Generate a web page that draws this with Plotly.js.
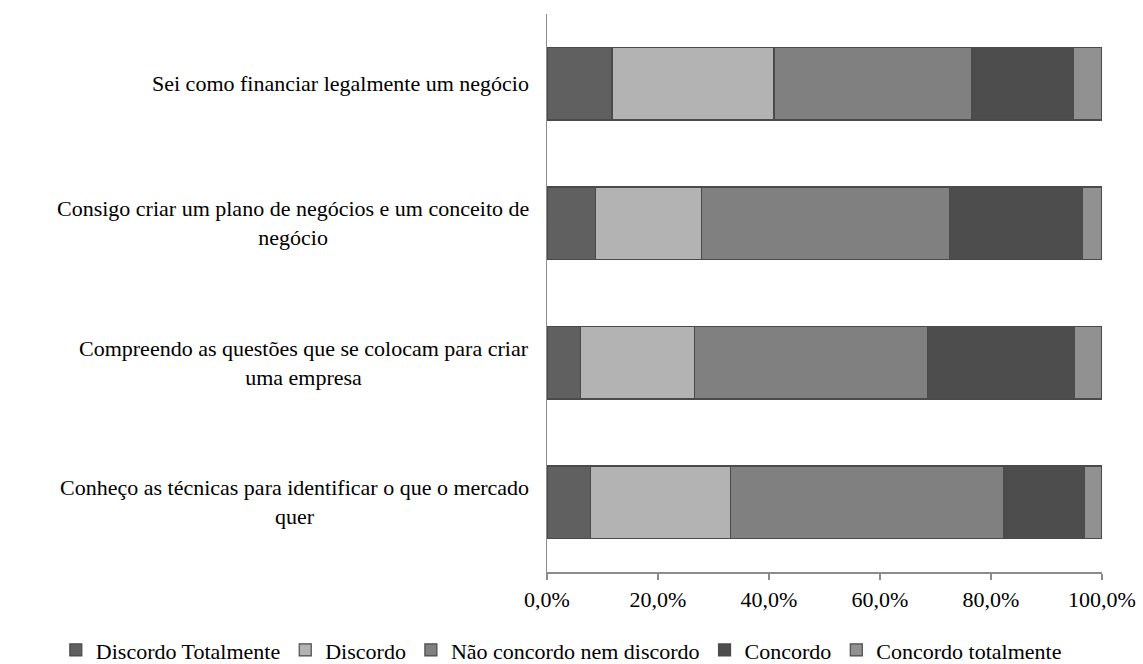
<!DOCTYPE html>
<html>
<head>
<meta charset="utf-8">
<script src="https://cdn.plot.ly/plotly-3.0.1.min.js"></script>
<style>html,body{margin:0;padding:0;background:#fff;}#chart{width:1143px;height:664px;}</style>
</head>
<body>
<div id="chart"></div>
<script>
const categories = [
  "Sei como financiar legalmente um negócio",
  "Consigo criar um plano de negócios e um conceito de<br>negócio",
  "Compreendo as questões que se colocam para criar<br>uma empresa",
  "Conheço as técnicas para identificar o que o mercado<br>quer"
];
const seriesNames = ["Discordo Totalmente", "Discordo", "Não concordo nem discordo", "Concordo", "Concordo totalmente"];
const discordoTotalmente = [11.7, 8.7, 6.0, 7.9];
const discordo = [29.2, 19.2, 20.6, 25.2];
const naoConcordo = [35.6, 44.6, 41.9, 49.1];
const concordo = [18.3, 24.0, 26.6, 14.6];
const concordoTotalmente = [5.2, 3.5, 4.9, 3.2];
const seriesValues = [discordoTotalmente, discordo, naoConcordo, concordo, concordoTotalmente];
const seriesColors = ["#606060", "#b3b3b3", "#808080", "#4d4d4d", "#919191"];
const tickVals = [0, 20, 40, 60, 80, 100];
const tickText = tickVals.map(v => v.toFixed(1).replace(".", ",") + "%");

const FONT = "'Liberation Serif', 'Times New Roman', serif";

const traces = seriesNames.map((name, i) => ({
  type: "bar",
  orientation: "h",
  name: name,
  y: categories,
  x: seriesValues[i],
  width: 0.52,
  marker: {color: seriesColors[i], line: {color: "#4a4a4a", width: 1.2}},
  hoverinfo: "skip"
}));

const annotations = categories.map(c => ({
  xref: "paper", yref: "y",
  x: 0, y: c,
  xanchor: "right", yanchor: "middle",
  xshift: -16,
  align: "center",
  text: c,
  showarrow: false,
  font: {family: FONT, size: 22, color: "#000"}
}));

const layout = {
  width: 1143, height: 664,
  margin: {l: 547, r: 41, t: 14, b: 92, autoexpand: false},
  paper_bgcolor: "#fff", plot_bgcolor: "#fff",
  barmode: "stack",
  separators: ",.",
  font: {family: FONT, size: 22, color: "#000"},
  xaxis: {
    range: [0, 100],
    tickvals: tickVals,
    ticktext: tickText,
    showgrid: false,
    zeroline: false,
    showline: true,
    linecolor: "#8c8c8c",
    linewidth: 1.5,
    ticks: "outside",
    ticklen: 6,
    tickcolor: "#8c8c8c",
    tickwidth: 1.5,
    ticklabelstandoff: 1,
    tickfont: {family: FONT, size: 22, color: "#000"},
    fixedrange: true
  },
  yaxis: {
    autorange: "reversed",
    showticklabels: false,
    showgrid: false,
    zeroline: false,
    showline: true,
    linecolor: "#8c8c8c",
    linewidth: 1.5,
    ticks: "",
    fixedrange: true
  },
  showlegend: true,
  legend: {
    orientation: "h",
    x: -0.885, xanchor: "left",
    y: -0.14, yanchor: "middle",
    traceorder: "normal",
    itemwidth: 30,
    font: {family: FONT, size: 22, color: "#000"},
    bgcolor: "rgba(0,0,0,0)"
  },
  annotations: annotations
};

Plotly.newPlot("chart", traces, layout, {displayModeBar: false, staticPlot: true});
</script>
</body>
</html>
